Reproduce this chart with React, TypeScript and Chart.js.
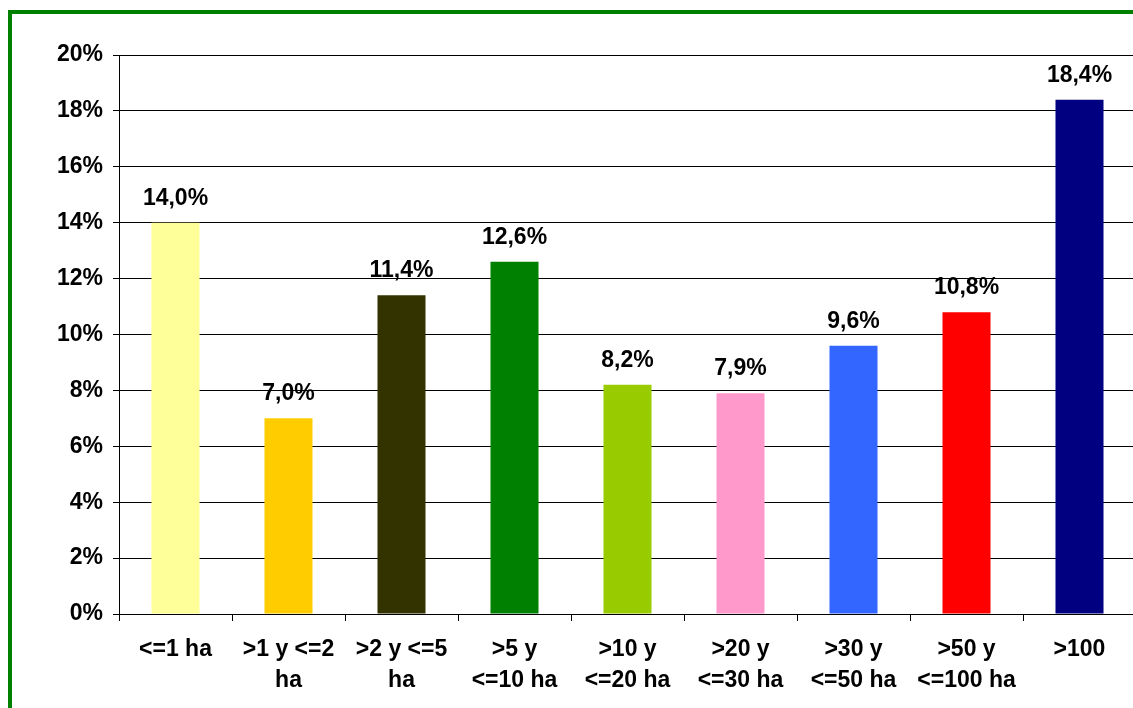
import React, { useEffect, useRef } from "react";
import { Chart, registerables } from "chart.js";

Chart.register(...registerables);

const categories: (string | string[])[] = [
  "<=1 ha",
  [">1 y <=2", "ha"],
  [">2 y <=5", "ha"],
  [">5 y", "<=10 ha"],
  [">10 y", "<=20 ha"],
  [">20 y", "<=30 ha"],
  [">30 y", "<=50 ha"],
  [">50 y", "<=100 ha"],
  ">100",
];
const values = [14.0, 7.0, 11.4, 12.6, 8.2, 7.9, 9.6, 10.8, 18.4];
const barColors = [
  "#FFFF99",
  "#FFCC00",
  "#333300",
  "#008000",
  "#99CC00",
  "#FF99CC",
  "#3366FF",
  "#FF0000",
  "#000080",
];
const yMin = 0;
const yMax = 20;
const yStep = 2;

const FONT = "'Liberation Sans', Arial, sans-serif";
const FSIZE = 23;

const valueLabels = {
  id: "valueLabels",
  afterDatasetsDraw(chart: any) {
    const ctx = chart.ctx;
    const meta = chart.getDatasetMeta(0);
    ctx.save();
    ctx.font = `bold ${FSIZE}px ${FONT}`;
    ctx.fillStyle = "#000";
    ctx.textAlign = "center";
    ctx.textBaseline = "alphabetic";
    meta.data.forEach((bar: any, i: number) => {
      const txt = values[i].toFixed(1).replace(".", ",") + "%";
      ctx.fillText(txt, bar.x, bar.y - 18);
    });
    ctx.restore();
  },
};

export default function App() {
  const ref = useRef<HTMLCanvasElement>(null);
  useEffect(() => {
    if (!ref.current) return;
    const chart = new Chart(ref.current, {
      type: "bar",
      data: {
        labels: categories,
        datasets: [
          {
            data: values,
            backgroundColor: barColors,
            borderWidth: 0,
            barPercentage: 0.85,
            categoryPercentage: 0.5,
          },
        ],
      },
      options: {
        responsive: false,
        animation: false,
        layout: { padding: { left: 0, top: 55, right: 4, bottom: 0 } },
        plugins: {
          legend: { display: false },
          tooltip: { enabled: false },
        },
        scales: {
          x: {
            grid: {
              offset: true,
              drawOnChartArea: false,
              drawTicks: true,
              tickLength: 7,
              color: "#000",
            },
            border: { display: true, color: "#000", width: 1 },
            ticks: {
              color: "#000",
              padding: 13,
              maxRotation: 0,
              autoSkip: false,
              font: { family: FONT, size: FSIZE, weight: "bold", lineHeight: 1.35 },
            },
            afterFit(scale: any) {
              scale.height = 94;
            },
          },
          y: {
            min: yMin,
            max: yMax,
            grid: {
              color: "#000",
              lineWidth: 1,
              drawTicks: true,
              tickLength: 6,
            },
            border: { display: true, color: "#000", width: 1 },
            ticks: {
              stepSize: yStep,
              color: "#000",
              padding: 10,
              font: { family: FONT, size: FSIZE, weight: "bold" },
              callback: (v: any) => v + "%",
            },
            afterFit(scale: any) {
              scale.width = 119;
            },
          },
        },
      },
      plugins: [valueLabels],
    });
    return () => chart.destroy();
  }, []);

  return (
    <div
      style={{
        position: "fixed",
        left: 0,
        top: 0,
        width: 1133,
        height: 708,
        overflow: "hidden",
        background: "#fff",
      }}
    >
      <canvas
        ref={ref}
        width={1140}
        height={708}
        style={{ position: "absolute", left: 0, top: 0, width: 1140, height: 708 }}
      />
      <div
        style={{
          position: "absolute",
          left: 8,
          top: 10,
          width: 1200,
          height: 800,
          border: "4px solid #008000",
          pointerEvents: "none",
        }}
      />
    </div>
  );
}
